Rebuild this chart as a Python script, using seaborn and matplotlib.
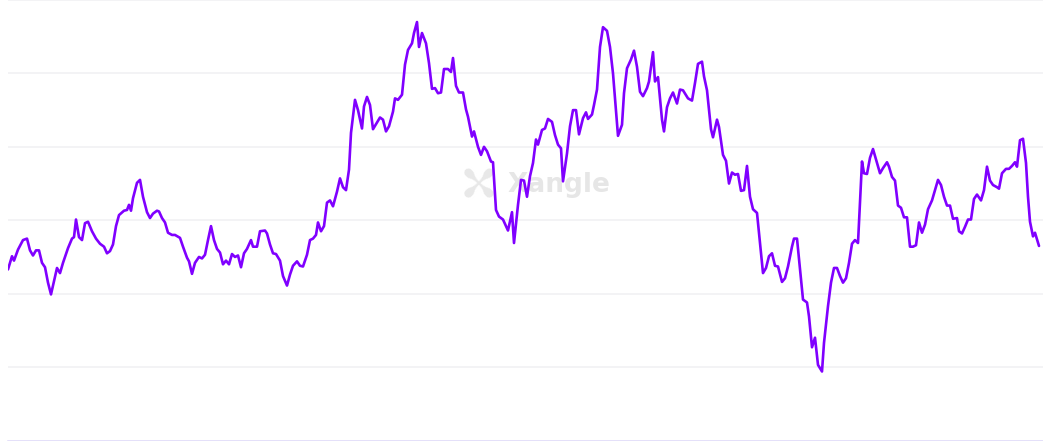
import pandas as pd
import matplotlib
matplotlib.use("Agg")
import matplotlib.pyplot as plt
import seaborn as sns

# series (t = time step, value = index level)
t = [0, 4, 6, 10, 15, 19, 22, 25, 28, 31, 34, 37, 40, 43, 46, 49, 52, 55, 60, 64,
     66, 68, 71, 74, 77, 80, 84, 88, 92, 96, 99, 102, 105, 108, 111, 116, 119, 121, 123, 125,
     129, 132, 135, 139, 142, 145, 149, 151, 154, 157, 160, 164, 167, 172, 175, 179, 181, 184, 187, 191,
     194, 197, 200, 203, 206, 209, 212, 215, 218, 221, 224, 227, 230, 233, 236, 239, 243, 245, 249, 252,
     257, 259, 262, 265, 268, 272, 275, 279, 282, 285, 289, 292, 295, 299, 302, 305, 308, 310, 313, 316,
     319, 322, 325, 329, 332, 335, 338, 341, 343, 347, 350, 354, 356, 359, 362, 365, 369, 372, 375, 378,
     381, 385, 387, 390, 394, 397, 400, 404, 406, 409, 411, 414, 418, 421, 424, 427, 430, 433, 436, 440,
     443, 445, 448, 451, 455, 458, 460, 464, 466, 470, 473, 476, 479, 483, 485, 488, 491, 495, 498, 500,
     504, 506, 510, 513, 516, 519, 522, 525, 528, 530, 534, 537, 540, 544, 547, 550, 553, 555, 559, 562,
     565, 568, 571, 575, 578, 580, 584, 586, 589, 592, 595, 599, 602, 605, 608, 610, 614, 616, 619, 623,
     626, 629, 632, 635, 639, 641, 645, 647, 650, 654, 656, 659, 662, 665, 669, 672, 675, 680, 684, 687,
     690, 694, 696, 699, 703, 705, 709, 711, 715, 718, 721, 724, 727, 730, 733, 736, 739, 742, 745, 749,
     751, 755, 758, 761, 764, 767, 770, 774, 777, 780, 784, 786, 789, 792, 795, 799, 801, 804, 807, 810,
     814, 816, 820, 823, 826, 829, 832, 835, 838, 841, 844, 847, 850, 854, 856, 859, 862, 865, 869, 872,
     875, 879, 881, 884, 887, 890, 893, 896, 899, 902, 905, 908, 911, 914, 917, 920, 924, 927, 930, 933,
     936, 939, 942, 945, 949, 951, 954, 957, 960, 963, 966, 969, 973, 976, 979, 982, 985, 989, 991, 994,
     998, 1001, 1004, 1007, 1009, 1012, 1015, 1018, 1020, 1022, 1025, 1027, 1031]

value = [23.3, 25.1, 24.5, 26.0, 27.3, 27.5, 25.9, 25.2, 25.9, 25.9, 24.2, 23.6, 21.5, 19.9, 21.7, 23.5, 22.8, 24.2, 26.2, 27.5,
         27.7, 30.1, 27.7, 27.3, 29.6, 29.8, 28.5, 27.5, 26.8, 26.4, 25.5, 25.8, 26.7, 29.2, 30.7, 31.3, 31.4, 32.1, 31.3, 33.0,
         35.1, 35.5, 33.2, 31.1, 30.3, 30.9, 31.3, 31.2, 30.3, 29.7, 28.3, 28.0, 28.0, 27.6, 26.4, 24.9, 24.4, 22.7, 24.2, 25.0,
         24.8, 25.3, 27.3, 29.2, 27.3, 26.1, 25.6, 24.0, 24.5, 24.0, 25.4, 25.0, 25.2, 23.6, 25.5, 26.1, 27.3, 26.4, 26.4, 28.5,
         28.6, 28.2, 26.7, 25.5, 25.4, 24.5, 22.4, 21.1, 22.6, 23.8, 24.4, 23.8, 23.7, 25.3, 27.3, 27.5, 28.0, 29.7, 28.5, 29.2,
         32.4, 32.7, 31.9, 33.9, 35.7, 34.5, 34.1, 36.9, 41.9, 46.4, 45.0, 42.5, 45.5, 46.8, 45.7, 42.4, 43.3, 44.0, 43.7, 42.1,
         42.8, 44.8, 46.6, 46.4, 47.1, 51.2, 53.2, 54.1, 55.5, 57.0, 53.6, 55.5, 54.1, 51.4, 47.9, 48.0, 47.3, 47.4, 50.6, 50.6,
         50.2, 52.1, 48.3, 47.4, 47.4, 45.1, 44.1, 41.4, 42.1, 40.0, 38.9, 40.0, 39.4, 38.0, 37.9, 31.4, 30.5, 30.1, 29.2, 28.6,
         31.1, 26.9, 32.1, 35.5, 35.4, 33.2, 36.0, 37.8, 41.0, 40.3, 42.3, 42.5, 43.8, 43.4, 41.6, 40.3, 39.8, 35.3, 39.1, 42.8,
         45.0, 45.0, 41.7, 43.9, 44.7, 43.8, 44.4, 45.7, 47.8, 53.6, 56.3, 55.8, 53.6, 50.0, 45.0, 41.5, 43.0, 47.3, 50.7, 51.9,
         53.1, 50.9, 47.5, 46.9, 48.0, 48.9, 52.9, 48.9, 49.5, 43.7, 42.1, 45.4, 46.6, 47.4, 45.9, 47.8, 47.7, 46.6, 46.3, 48.7,
         51.3, 51.6, 49.6, 47.7, 42.4, 41.3, 43.7, 42.7, 38.9, 38.1, 35.0, 36.5, 36.2, 36.3, 34.0, 34.1, 37.4, 33.2, 31.5, 31.0,
         28.3, 22.8, 23.5, 25.1, 25.5, 23.8, 23.7, 21.6, 22.1, 23.7, 26.4, 27.5, 27.5, 23.4, 19.2, 18.8, 16.9, 12.7, 14.0, 10.3,
         9.4, 13.3, 18.3, 21.5, 23.5, 23.5, 22.4, 21.5, 22.1, 24.2, 26.8, 27.3, 26.9, 38.0, 36.4, 36.3, 38.5, 39.7, 37.8, 36.4,
         37.1, 37.9, 37.3, 35.9, 35.4, 32.0, 31.7, 30.4, 30.4, 26.4, 26.4, 26.6, 29.7, 28.3, 29.4, 31.5, 32.7, 34.1, 35.5, 34.8,
         33.2, 32.0, 32.0, 30.2, 30.3, 28.5, 28.2, 29.1, 30.1, 30.1, 32.9, 33.5, 32.7, 34.1, 37.3, 35.4, 34.8, 34.5, 34.3, 36.4,
         37.0, 37.0, 37.4, 37.9, 37.3, 40.9, 41.1, 37.8, 33.2, 29.8, 27.8, 28.3, 26.5]

y_ticks = [0, 10, 20, 30, 40, 50, 60]

df = pd.DataFrame({"t": t, "value": value})

sns.set_theme(style="white")

fig = plt.figure(figsize=(10.43, 4.41), dpi=100)
ax = fig.add_axes([8 / 1043, 0.5 / 441, 1035 / 1043, 440.5 / 441])

sns.lineplot(data=df, x="t", y="value", color="#8000ff", linewidth=1.9, ax=ax, zorder=3)

ax.set_xlim(0, 1035)
ax.set_ylim(0, 60)
ax.set_yticks(y_ticks)
ax.set_xticks([])
ax.set_yticklabels([])
ax.set_xlabel("")
ax.set_ylabel("")
ax.tick_params(length=0)
ax.yaxis.grid(True, color="#f2f2f4", linewidth=1.3)
ax.xaxis.grid(False)

for side in ["top", "right", "left"]:
    ax.spines[side].set_visible(False)
ax.spines["bottom"].set_color("#e2ddfa")
ax.spines["bottom"].set_linewidth(1.2)
ax.spines["bottom"].set_zorder(2)

# watermark
ax.text(0.457, 0.583, "\u2722", transform=ax.transAxes, ha="center", va="center",
        fontsize=36, rotation=45, color="#e8e8e8", zorder=1)
ax.text(0.483, 0.58, "Xangle", transform=ax.transAxes, ha="left", va="center",
        fontsize=19, fontweight="bold", color="#e6e6e6", zorder=1)

fig.savefig("out.png", dpi=100)
